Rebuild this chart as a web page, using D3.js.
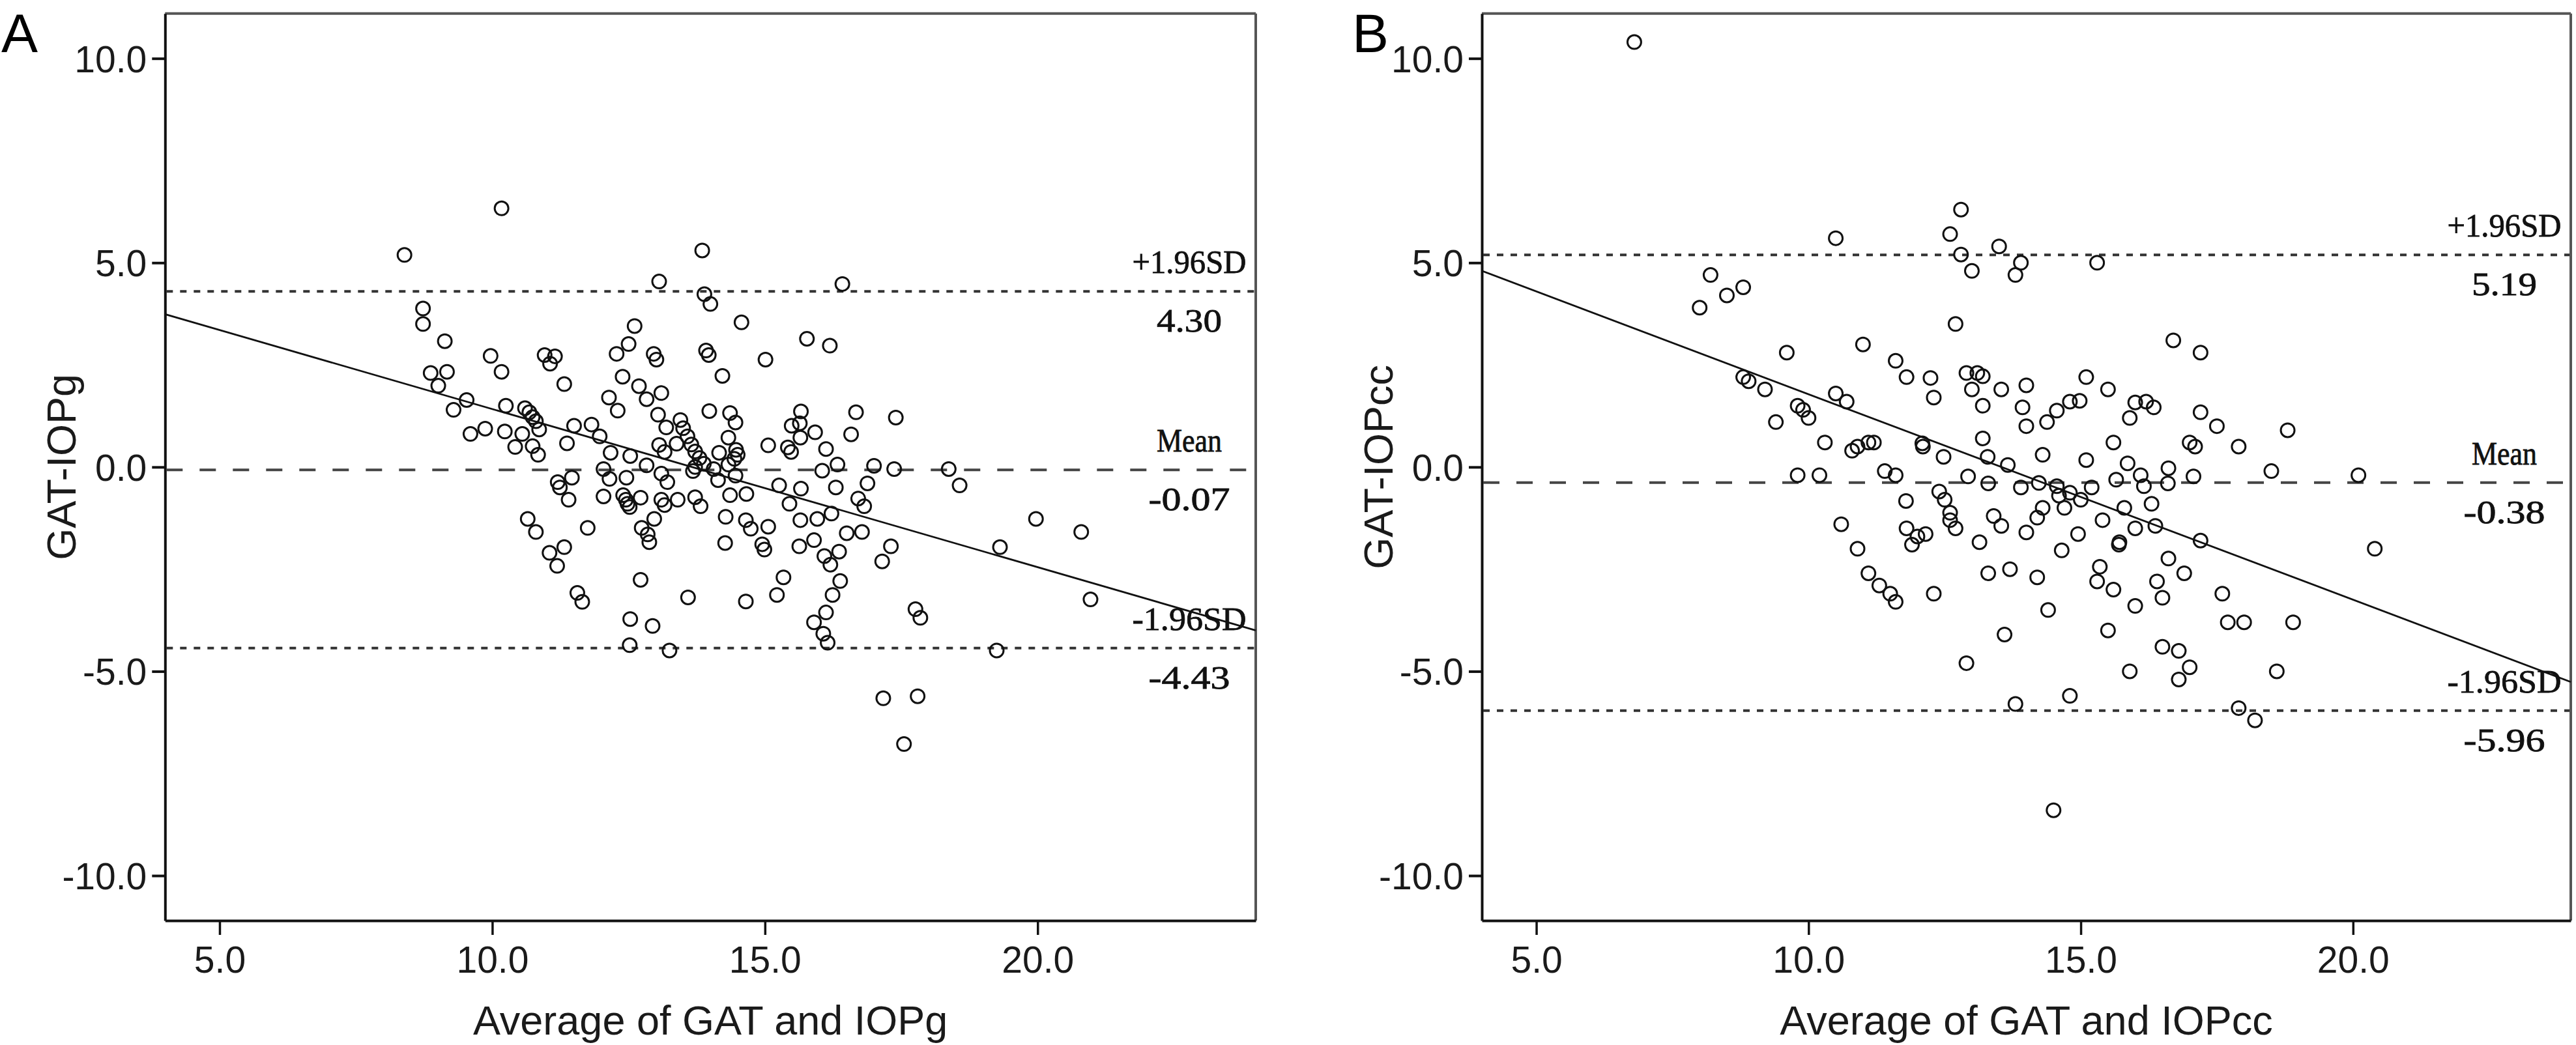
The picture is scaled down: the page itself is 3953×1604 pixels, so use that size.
<!DOCTYPE html>
<html><head><meta charset="utf-8">
<script src="https://cdn.jsdelivr.net/npm/d3@7"></script>
<style>body{margin:0;background:#fff}svg{display:block}</style>
</head><body>
<svg id="c" width="3953" height="1604"></svg>
<script>
const xTicks=[5,10,15,20];
const yTicks=[-10,-5,0,5,10];
const xDomain=[4,24];
const yDomain=[-11.1,11.1];
const panelLetters=["A","B"];
const yTitles=["GAT-IOPg","GAT-IOPcc"];
const xTitles=["Average of GAT and IOPg","Average of GAT and IOPcc"];
const upperLoA=[4.30,5.19];
const meanDiff=[-0.07,-0.38];
const lowerLoA=[-4.43,-5.96];
const regAtXmin=[3.74,4.8];
const regAtXmax=[-4.0,-5.26];

const pointsA=[
[8.39,5.19],[10.17,6.33],[8.73,3.88],[8.73,3.50],[9.13,3.08],[9.97,2.72],[10.17,2.33],[8.87,2.30],[9.17,2.33],[9.01,1.99],
[9.53,1.64],[9.29,1.40],[10.25,1.50],[9.87,0.94],[9.60,0.81],[10.23,0.87],[10.42,0.49],[10.55,0.81],
[13.85,5.30],[13.06,4.54],[16.42,4.48],[13.89,4.23],[14.0,3.99],[14.57,3.54],[12.61,3.45],[15.77,3.14],[16.19,2.97],[12.50,3.01],
[12.28,2.77],[10.96,2.74],[11.15,2.71],[11.06,2.53],[12.96,2.77],[13.01,2.63],[13.92,2.85],[13.97,2.74],[15.01,2.63],[14.22,2.23],
[12.39,2.21],[11.32,2.03],[12.69,1.98],[13.10,1.81],[12.83,1.66],[12.14,1.70],
[10.60,1.44],[10.68,1.34],[10.74,1.22],[10.80,1.12],
[12.30,1.38],[13.04,1.28],[13.98,1.37],[14.36,1.32],[14.46,1.09],[15.66,1.36],[15.49,1.01],[15.64,1.07],[15.92,0.85],[15.65,0.72],
[13.19,0.97],[13.45,1.15],[13.50,0.95],[13.58,0.75],[13.65,0.55],[13.72,0.38],[13.80,0.22],[13.88,0.08],
[11.50,1.01],[11.82,1.04],[11.97,0.75],[10.86,0.92],[10.74,0.51],[10.84,0.30],[11.37,0.58],[12.17,0.35],[12.53,0.27],[12.83,0.04],
[13.06,0.54],[13.38,0.57],[13.16,0.37],[14.16,0.35],[14.33,0.72],[14.33,0.06],[14.47,0.42],[14.50,0.30],[14.44,0.20],[15.06,0.53],
[15.42,0.48],[15.48,0.37],[16.12,0.44],[16.33,0.06],[16.58,0.80],[16.05,-0.09],[12.04,-0.05],[13.72,0.0],[13.68,-0.10],[14.06,-0.05],
[14.14,-0.32],[14.46,-0.21],[13.10,-0.16],[13.21,-0.37],[11.20,-0.37],[11.46,-0.26],[12.15,-0.29],[12.46,-0.26],[15.26,-0.45],[15.66,-0.53],
[16.30,-0.50],
[12.04,-0.72],[12.40,-0.69],[12.45,-0.80],[12.48,-0.90],[12.52,-0.98],[12.72,-0.75],[13.10,-0.80],[13.16,-0.93],[13.40,-0.80],[13.72,-0.74],
[13.82,-0.96],[14.36,-0.69],[14.66,-0.66],[15.45,-0.90],[16.22,-1.14],[16.50,-1.62],[11.40,-0.80],[11.24,-0.50],[10.65,-1.27],[10.80,-1.59],
[11.75,-1.49],[12.97,-1.27],[12.74,-1.49],[12.85,-1.65],[12.88,-1.84],[14.28,-1.22],[14.65,-1.30],[14.74,-1.51],[15.06,-1.46],[15.65,-1.30],
[15.96,-1.27],[14.27,-1.86],[14.95,-1.89],[14.99,-2.02],[15.63,-1.94],[15.90,-1.79],[16.09,-2.18],[16.20,-2.39],[16.36,-2.07],[11.05,-2.10],
[11.32,-1.96],[11.19,-2.42],[15.34,-2.70],[16.38,-2.79],[12.72,-2.76],[11.56,-3.08],[11.65,-3.30],[13.59,-3.19],[14.65,-3.29],[15.22,-3.13],
[16.24,-3.13],[16.12,-3.56],[15.90,-3.80],[16.07,-4.08],[16.15,-4.30],[12.53,-3.72],[12.94,-3.89],[12.52,-4.36],[13.25,-4.49],
[16.67,1.34],[17.40,1.21],[17.0,0.03],[17.37,-0.05],[18.37,-0.05],[16.88,-0.40],[18.57,-0.45],
[16.71,-0.77],[16.82,-0.96],[16.78,-1.59],[19.97,-1.27],[20.80,-1.59],[19.31,-1.96],[17.31,-1.94],[17.15,-2.31],[17.76,-3.48],
[17.85,-3.69],[20.97,-3.24],[19.25,-4.49],[17.17,-5.66],[17.80,-5.61],[17.55,-6.78]
];

const pointsB=[
[6.8,10.4],[8.0,3.9],[8.2,4.7],[8.5,4.2],[8.8,4.4],[8.8,2.2],[8.9,2.1],[9.2,1.9],[9.6,2.8],[9.4,1.1],
[9.8,1.5],[9.9,1.4],[10.0,1.2],[10.3,0.6],[10.5,1.8],[10.7,1.6],[10.5,5.6],[10.8,0.4],[10.9,0.5],[11.0,3.0],
[11.1,0.6],[11.2,0.6],[9.8,-0.2],[10.2,-0.2],[10.6,-1.4],[10.9,-2.0],[11.1,-2.6],[11.3,-2.9],[11.5,-3.1],[11.6,-3.3],
[11.4,-0.1],[11.6,-0.2],[11.6,2.6],[11.8,2.2],[11.8,-1.5],[11.9,-1.9],[12.0,-1.7],[12.1,0.5],[12.3,-3.1],[12.3,1.7],
[12.4,-0.6],[12.5,-0.8],[12.6,5.7],[12.7,3.5],[12.8,6.3],[12.8,5.2],[12.9,2.3],[12.9,-4.8],[13.0,4.8],[13.1,2.3],
[12.6,-1.3],[12.7,-1.5],[13.0,1.9],[13.2,1.5],[13.2,0.7],[13.3,-2.6],[13.3,-0.4],[13.4,-1.2],[13.5,5.4],[13.6,-4.1],
[13.7,-2.5],[13.8,4.7],[13.9,5.0],[13.9,-0.5],[14.0,2.0],[14.0,1.0],[14.0,-1.6],[13.8,-5.8],[14.2,-2.7],[14.3,-1.0],
[14.4,-3.5],[14.5,-8.4],[14.3,0.3],[14.6,-0.7],[14.7,-1.0],[14.8,-5.6],[14.8,1.6],[15.0,-0.8],[15.1,2.2],[15.2,-0.5],
[15.3,5.0],[15.3,-2.8],[15.4,-1.3],[15.5,-4.0],[15.6,-3.0],[15.6,0.6],[15.7,-1.9],[15.8,-1.0],[15.9,1.2],[15.9,-5.0],
[16.0,-3.4],[16.0,-1.5],[16.1,-0.2],[16.2,1.6],[16.3,-0.9],[16.4,-2.8],[16.5,-4.4],[16.5,-3.2],[16.6,-0.4],[16.7,3.1],
[16.8,-5.2],[16.8,-4.5],[16.9,-2.6],[17.0,0.6],[17.1,0.5],[17.2,2.8],[17.2,-1.8],[17.0,-4.9],[17.5,1.0],[17.6,-3.1],
[17.7,-3.8],[17.9,0.5],[17.9,-5.9],[18.0,-3.8],[18.2,-6.2],[18.5,-0.1],[18.6,-5.0],[18.8,0.9],[18.9,-3.8],[20.1,-0.2],
[20.4,-2.0],
[12.24,2.18],[13.2,2.22],[13.54,1.90],[13.93,1.46],[14.38,1.10],[14.56,1.38],[14.98,1.62],[15.5,1.90],[16.0,1.58],[16.34,1.46],
[17.2,1.34],[12.09,0.58],[12.48,0.25],[12.93,-0.23],[13.29,0.25],[13.66,0.05],[14.23,-0.39],[14.56,-0.47],[14.8,-0.63],[15.1,0.17],
[15.65,-0.31],[15.86,0.09],[16.16,-0.47],[16.61,-0.03],[17.07,-0.23],[11.79,-0.83],[12.15,-1.64],[12.6,-1.12],[13.14,-1.84],[13.54,-1.44],
[14.2,-1.24],[14.65,-2.04],[14.95,-1.64],[15.35,-2.44],[15.71,-1.84],[16.37,-1.44],[16.61,-2.24]
];

const panels=[{left:253.3,right:1927,points:pointsA},{left:2274,right:3945,points:pointsB}];
const plotTop=20.7,plotBottom=1413;
const svg=d3.select("#c");
const sans="'Liberation Sans', Arial, sans-serif";
const serif="'Liberation Serif', 'Times New Roman', serif";
const fmt=d=>d.toFixed(1);

panels.forEach((p,i)=>{
  const x=d3.scaleLinear().domain(xDomain).range([p.left,p.right]);
  const y=d3.scaleLinear().domain(yDomain).range([plotBottom,plotTop]);
  const g=svg.append("g");

  g.append("line").attr("x1",p.left).attr("x2",p.right).attr("y1",plotTop).attr("y2",plotTop).attr("stroke","#555").attr("stroke-width",4);
  g.append("line").attr("x1",p.right).attr("x2",p.right).attr("y1",plotTop).attr("y2",plotBottom).attr("stroke","#555").attr("stroke-width",4);

  const ax=g.append("g").attr("transform",`translate(${p.left},0)`)
    .call(d3.axisLeft(y).tickValues(yTicks).tickFormat(fmt).tickSize(20).tickSizeOuter(0).tickPadding(8));
  ax.select(".domain").attr("stroke","#111").attr("stroke-width",4);
  ax.selectAll(".tick line").attr("stroke","#111").attr("stroke-width",4);
  ax.selectAll(".tick text").attr("font-family",sans).attr("font-size",57).attr("fill","#1a1a1a").attr("dy","0.36em");

  const bx=g.append("g").attr("transform",`translate(0,${plotBottom})`)
    .call(d3.axisBottom(x).tickValues(xTicks).tickFormat(fmt).tickSize(22).tickSizeOuter(0).tickPadding(18));
  bx.select(".domain").attr("stroke","#111").attr("stroke-width",4);
  bx.selectAll(".tick line").attr("stroke","#111").attr("stroke-width",3.5);
  bx.selectAll(".tick text").attr("font-family",sans).attr("font-size",57).attr("fill","#1a1a1a");

  const hl=(v,dash,col)=>g.append("line").attr("x1",p.left+2).attr("x2",p.right-2)
     .attr("y1",y(v)).attr("y2",y(v)).attr("stroke",col).attr("stroke-width",4).attr("stroke-dasharray",dash);
  hl(upperLoA[i],"10,11","#333");
  hl(lowerLoA[i],"10,11","#333");
  hl(meanDiff[i],"25,26","#444");

  g.append("line").attr("x1",x(xDomain[0])).attr("x2",x(xDomain[1]))
    .attr("y1",y(regAtXmin[i])).attr("y2",y(regAtXmax[i])).attr("stroke","#111").attr("stroke-width",2.8);

  g.append("g").selectAll("circle").data(p.points).join("circle")
    .attr("cx",d=>x(d[0])).attr("cy",d=>y(d[1])).attr("r",10.5)
    .attr("fill","none").attr("stroke","#111").attr("stroke-width",3);

  const cx=p.right-102;
  const lab=(txt,yy)=>g.append("text").attr("x",cx).attr("y",yy).attr("text-anchor","middle")
     .attr("font-family",serif).attr("font-size",50).attr("fill","#111")
     .attr("stroke","#111").attr("stroke-width",0.8)
     .attr("textLength",txt.length*25).attr("lengthAdjust","spacingAndGlyphs").text(txt);
  lab("+1.96SD",y(upperLoA[i])-28);
  lab(upperLoA[i].toFixed(2),y(upperLoA[i])+62);
  lab("Mean",y(meanDiff[i])-28);
  lab(meanDiff[i].toFixed(2),y(meanDiff[i])+62);
  lab("-1.96SD",y(lowerLoA[i])-28);
  lab(lowerLoA[i].toFixed(2),y(lowerLoA[i])+62);

  g.append("text").attr("x",(p.left+p.right)/2).attr("y",1588).attr("text-anchor","middle")
    .attr("font-family",sans).attr("font-size",63).attr("fill","#1a1a1a").text(xTitles[i]);
  g.append("text").attr("transform",`translate(${p.left-137},${(plotTop+plotBottom)/2}) rotate(-90)`)
    .attr("text-anchor","middle").attr("font-family",sans).attr("font-size",63).attr("fill","#1a1a1a").text(yTitles[i]);

  g.append("text").attr("x",i===0?2:2075).attr("y",80).attr("font-family",sans).attr("font-size",84)
    .attr("fill","#000").text(panelLetters[i]);
});
</script>
</body></html>
